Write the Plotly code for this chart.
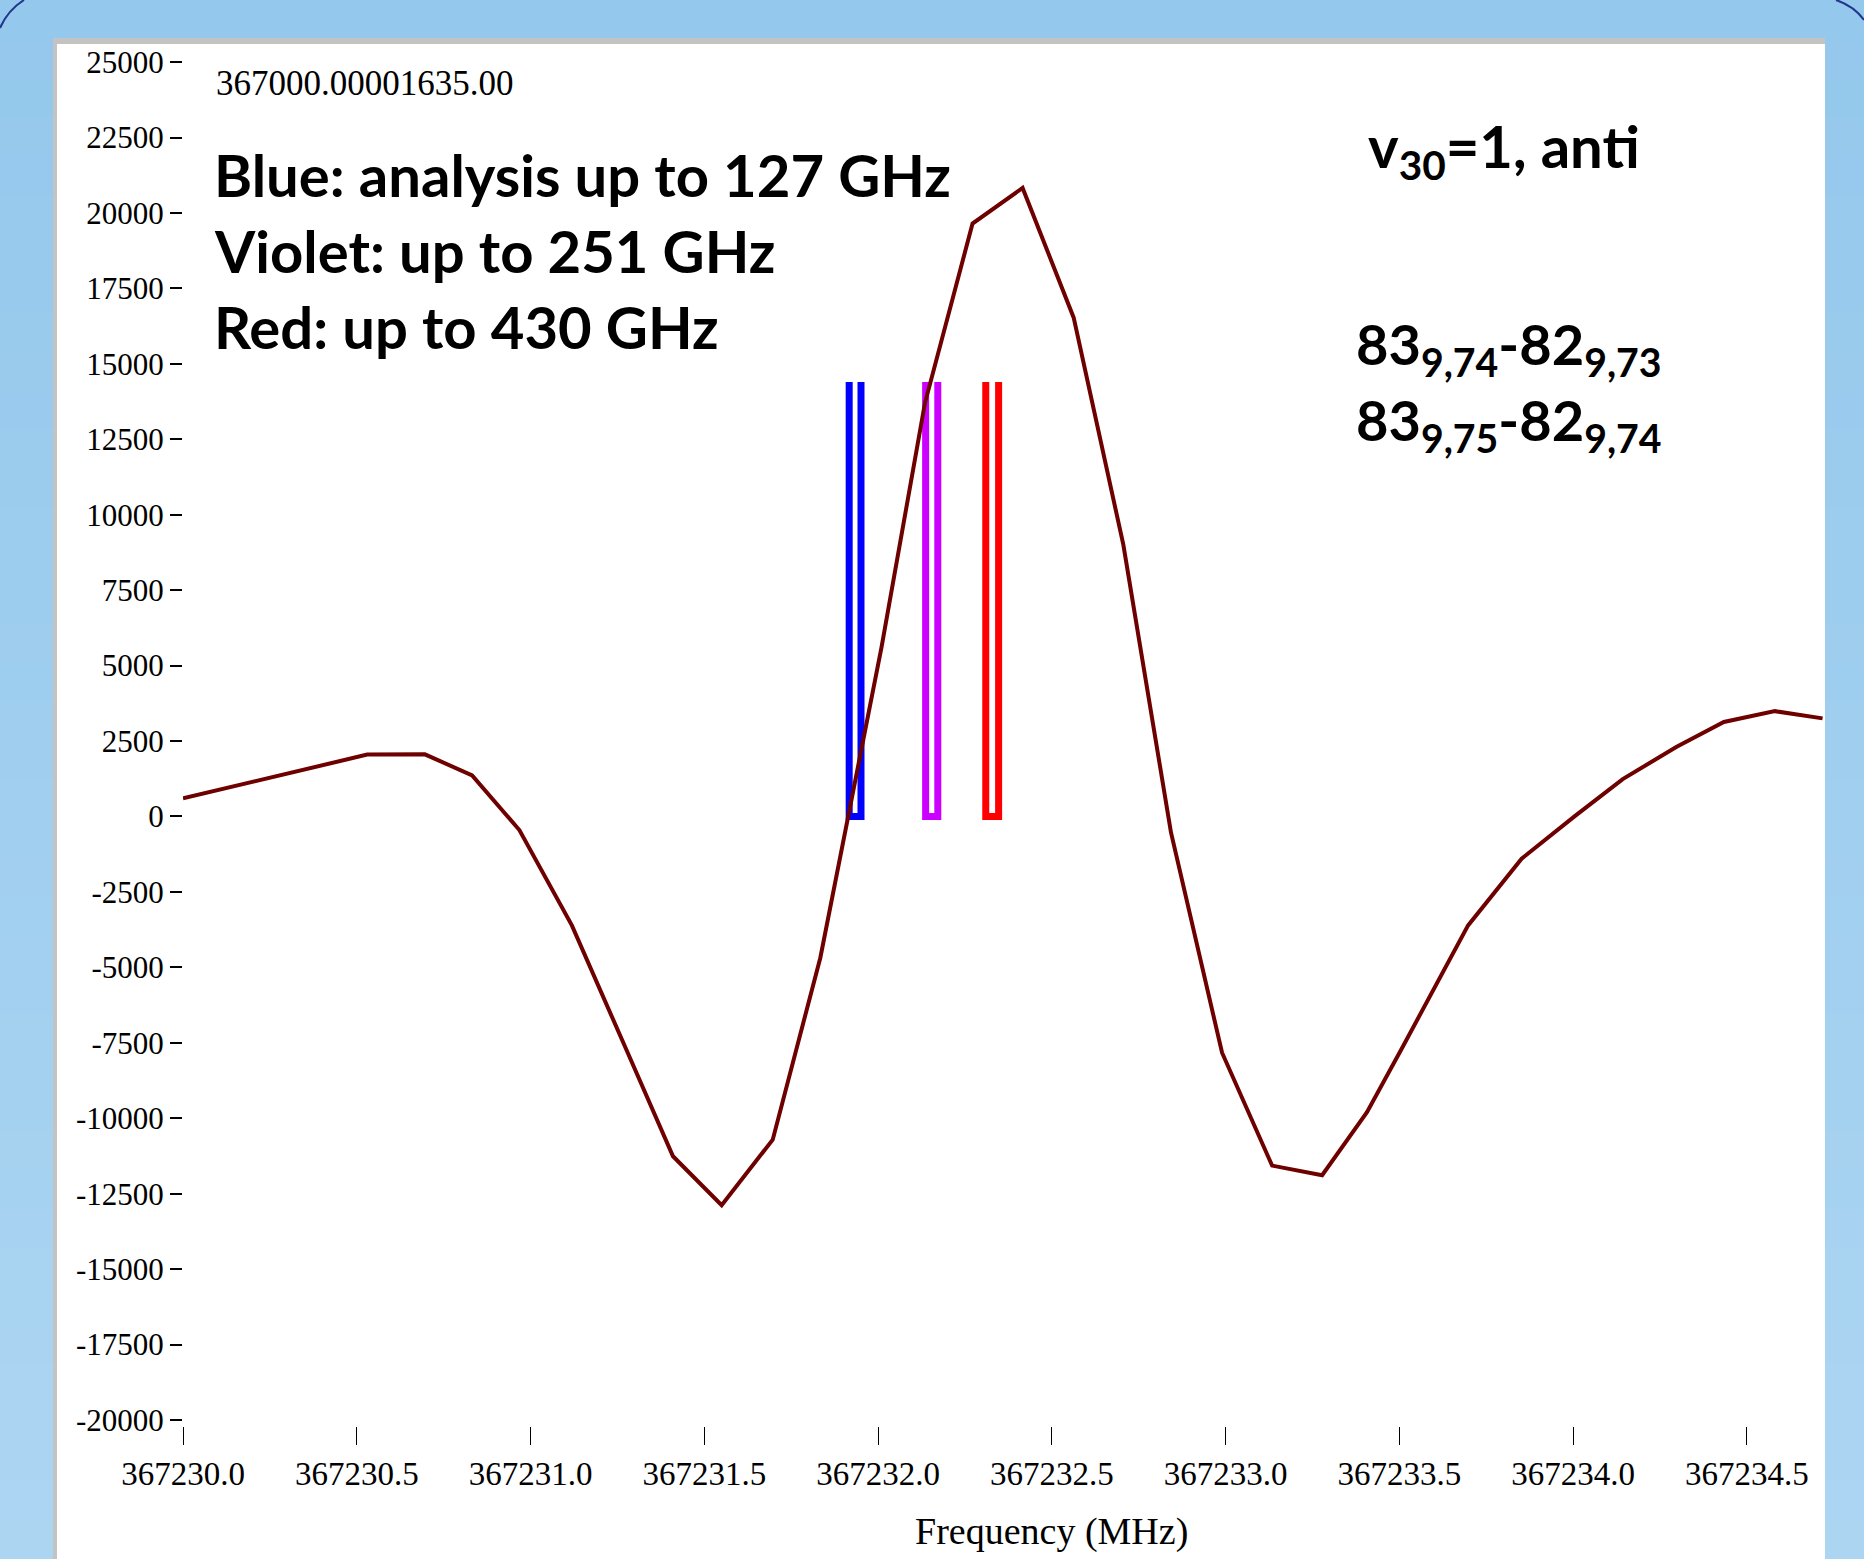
import plotly.graph_objects as go

# ---- data -------------------------------------------------------------
# observed spectrum (frequency in MHz, intensity in arbitrary units)
spec_freq = [367230.000, 367230.530, 367230.696, 367230.832, 367230.968,
             367231.119, 367231.269, 367231.410, 367231.550, 367231.697,
             367231.834, 367231.913, 367232.010, 367232.135, 367232.272,
             367232.416, 367232.563, 367232.706, 367232.843, 367232.990,
             367233.134, 367233.278, 367233.407, 367233.510, 367233.698,
             367233.852, 367234.006, 367234.143, 367234.297, 367234.434,
             367234.581, 367234.718]
spec_int = [600, 2050, 2060, 1360, -450,
            -3610, -7550, -11260, -12880, -10710,
            -4680, -60, 5600, 13700, 19650,
            20830, 16530, 9000, -530, -7830,
            -11570, -11890, -9800, -7630, -3610,
            -1400, 20, 1240, 2300, 3130,
            3490, 3250]

# predicted line pairs from the three analyses
blue_freqs = [367231.917, 367231.951]
violet_freqs = [367232.137, 367232.172]
red_freqs = [367232.310, 367232.347]
stick_height = 14400

x_ticks = [367230.0, 367230.5, 367231.0, 367231.5, 367232.0,
           367232.5, 367233.0, 367233.5, 367234.0, 367234.5]
y_ticks = [25000, 22500, 20000, 17500, 15000, 12500, 10000, 7500, 5000,
           2500, 0, -2500, -5000, -7500, -10000, -12500, -15000, -17500,
           -20000]

# ---- geometry ---------------------------------------------------------
W, H = 1864, 1559
ML, MR, MT, MB = 183, 39, 47, 133
PW, PH = W - ML - MR, H - MT - MB


def px(x):
    return (x - ML) / PW


def py(y):
    return (H - MB - y) / PH


fig = go.Figure()


def stick_pair(freqs, color):
    f1, f2 = freqs
    fig.add_trace(go.Scatter(
        x=[f1, f1, f2, f2], y=[stick_height, 0, 0, stick_height],
        mode="lines", line=dict(color=color, width=7),
        hoverinfo="skip", showlegend=False))


stick_pair(blue_freqs, "#0000FF")
stick_pair(violet_freqs, "#CC00FF")
stick_pair(red_freqs, "#FF0000")

fig.add_trace(go.Scatter(
    x=spec_freq, y=spec_int, mode="lines",
    line=dict(color="#6E0000", width=4), showlegend=False))

# ---- background: blue gradient slide + white panel --------------------
shapes = []
n_strips = 40
top_rgb = (148, 200, 236)
bot_rgb = (172, 213, 242)
for i in range(n_strips):
    t = i / (n_strips - 1)
    c = tuple(round(a + (b - a) * t) for a, b in zip(top_rgb, bot_rgb))
    y0 = H * i / n_strips
    y1 = H * (i + 1) / n_strips + 1
    shapes.append(dict(type="rect", xref="paper", yref="paper",
                       x0=px(0), x1=px(W), y0=py(y1), y1=py(y0),
                       fillcolor="rgb(%d,%d,%d)" % c, line=dict(width=0),
                       layer="below"))
# grey frame edges
shapes.append(dict(type="rect", xref="paper", yref="paper",
                   x0=px(53), x1=px(1825), y0=py(H), y1=py(38),
                   fillcolor="#C3C3C3", line=dict(width=0), layer="below"))
# white panel
shapes.append(dict(type="rect", xref="paper", yref="paper",
                   x0=px(57), x1=px(1825), y0=py(H), y1=py(44),
                   fillcolor="white", line=dict(width=0), layer="below"))
# rounded corner strokes of the slide frame
shapes.append(dict(type="path", xref="paper", yref="paper",
                   path="M %f,%f Q %f,%f %f,%f" % (px(0), py(28), px(8), py(10), px(24), py(0)),
                   line=dict(color="#23358C", width=2), layer="above"))
shapes.append(dict(type="path", xref="paper", yref="paper",
                   path="M %f,%f Q %f,%f %f,%f" % (px(1836), py(0), px(1854), py(6), px(1864), py(20)),
                   line=dict(color="#23358C", width=2), layer="above"))

# ---- text -------------------------------------------------------------
serif = "Liberation Serif"
bold = dict(family="Lato", size=58, color="black", weight="bold")
bold_q = dict(family="Lato", size=56, color="black", weight="bold")
annotations = [
    dict(text="367000.00001635.00", x=px(214), y=py(83),
         font=dict(family=serif, size=35, color="black")),
    dict(text="Blue: analysis up to 127 GHz", x=px(212), y=py(174), font=bold),
    dict(text="Violet: up to 251 GHz", x=px(212), y=py(250), font=bold),
    dict(text="Red: up to 430 GHz", x=px(212), y=py(326), font=bold),
    dict(text="v<sub>30</sub>=1, anti", x=px(1366), y=py(150), font=bold),
    dict(text="83<sub>9,74</sub>-82<sub>9,73</sub>", x=px(1354), y=py(347), font=bold_q),
    dict(text="83<sub>9,75</sub>-82<sub>9,74</sub>", x=px(1354), y=py(424), font=bold_q),
]
for a in annotations:
    a.update(xref="paper", yref="paper", xanchor="left", yanchor="middle",
             showarrow=False)
annotations.append(dict(text="Frequency (MHz)", x=px(1051), y=py(1531),
                        xref="paper", yref="paper", xanchor="center",
                        yanchor="middle", showarrow=False,
                        font=dict(family=serif, size=38, color="black")))

fig.update_layout(
    width=W, height=H, autosize=False,
    margin=dict(l=ML, r=MR, t=MT, b=MB, pad=0),
    paper_bgcolor="rgb(148,200,236)", plot_bgcolor="white",
    shapes=shapes, annotations=annotations,
    xaxis=dict(range=[367230.0, 367234.725], tickmode="array",
               tickvals=x_ticks, ticktext=["%.1f" % v for v in x_ticks],
               ticks="outside", ticklen=18, tickwidth=1.2, tickcolor="black",
               showgrid=False, zeroline=False, showline=False,
               tickfont=dict(family=serif, size=33, color="black")),
    yaxis=dict(range=[-20200, 25500], tickmode="array",
               tickvals=y_ticks, ticktext=[str(v) for v in y_ticks],
               ticks="outside", ticklen=12, tickwidth=1.5, tickcolor="black",
               showgrid=False, zeroline=False, showline=False,
               tickfont=dict(family=serif, size=31, color="black")),
)

fig.write_html("out.html")
